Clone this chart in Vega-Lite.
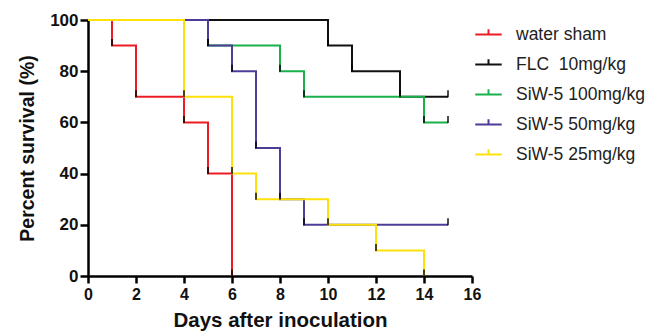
{
  "$schema": "https://vega.github.io/schema/vega-lite/v6.json",
  "width": 384,
  "height": 256,
  "autosize": "none",
  "padding": {"left": 88, "top": 20, "right": 178, "bottom": 59},
  "background": "white",
  "config": {
    "font": "Liberation Sans",
    "view": {"stroke": null}
  },
  "datasets": {
    "curves": [
      {"group": "FLC\u00a0\u00a010mg/kg", "day": 0, "survival": 100},
      {"group": "FLC\u00a0\u00a010mg/kg", "day": 10, "survival": 90},
      {"group": "FLC\u00a0\u00a010mg/kg", "day": 11, "survival": 80},
      {"group": "FLC\u00a0\u00a010mg/kg", "day": 13, "survival": 70},
      {"group": "FLC\u00a0\u00a010mg/kg", "day": 15, "survival": 70},
      {"group": "SiW-5 100mg/kg", "day": 0, "survival": 100},
      {"group": "SiW-5 100mg/kg", "day": 5, "survival": 90},
      {"group": "SiW-5 100mg/kg", "day": 8, "survival": 80},
      {"group": "SiW-5 100mg/kg", "day": 9, "survival": 70},
      {"group": "SiW-5 100mg/kg", "day": 14, "survival": 60},
      {"group": "SiW-5 100mg/kg", "day": 15, "survival": 60},
      {"group": "SiW-5 50mg/kg", "day": 0, "survival": 100},
      {"group": "SiW-5 50mg/kg", "day": 5, "survival": 90},
      {"group": "SiW-5 50mg/kg", "day": 6, "survival": 80},
      {"group": "SiW-5 50mg/kg", "day": 7, "survival": 50},
      {"group": "SiW-5 50mg/kg", "day": 8, "survival": 30},
      {"group": "SiW-5 50mg/kg", "day": 9, "survival": 20},
      {"group": "SiW-5 50mg/kg", "day": 15, "survival": 20},
      {"group": "water sham", "day": 0, "survival": 100},
      {"group": "water sham", "day": 1, "survival": 90},
      {"group": "water sham", "day": 2, "survival": 70},
      {"group": "water sham", "day": 4, "survival": 60},
      {"group": "water sham", "day": 5, "survival": 40},
      {"group": "water sham", "day": 6, "survival": 0},
      {"group": "SiW-5 25mg/kg", "day": 0, "survival": 100},
      {"group": "SiW-5 25mg/kg", "day": 4, "survival": 70},
      {"group": "SiW-5 25mg/kg", "day": 6, "survival": 40},
      {"group": "SiW-5 25mg/kg", "day": 7, "survival": 30},
      {"group": "SiW-5 25mg/kg", "day": 10, "survival": 20},
      {"group": "SiW-5 25mg/kg", "day": 12, "survival": 10},
      {"group": "SiW-5 25mg/kg", "day": 14, "survival": 0}
    ]
  },
  "data": {"name": "curves"},
  "layer": [
    {
      "mark": {"type": "line", "interpolate": "step-after", "strokeWidth": 2},
      "encoding": {
        "x": {
          "field": "day", "type": "quantitative",
          "scale": {"domain": [0, 16], "nice": false, "zero": true},
          "axis": {
            "values": [0, 2, 4, 6, 8, 10, 12, 14, 16],
            "title": "Days after inoculation",
            "grid": false,
            "domainColor": "black", "domainWidth": 2.5,
            "tickColor": "black", "tickWidth": 2.5, "tickSize": 7,
            "labelFont": "Liberation Sans", "labelFontWeight": "bold", "labelFontSize": 16, "labelColor": "#111",
            "labelPadding": 3, "labelFlush": false,
            "titleFont": "Liberation Sans", "titleFontWeight": "bold", "titleFontSize": 20.5, "titleColor": "#111",
            "titlePadding": 8
          }
        },
        "y": {
          "field": "survival", "type": "quantitative",
          "scale": {"domain": [0, 100], "nice": false},
          "axis": {
            "values": [0, 20, 40, 60, 80, 100],
            "title": "Percent survival (%)",
            "grid": false,
            "domainColor": "black", "domainWidth": 2.5,
            "tickColor": "black", "tickWidth": 2.5, "tickSize": 8,
            "labelFont": "Liberation Sans", "labelFontWeight": "bold", "labelFontSize": 17, "labelColor": "#111",
            "labelPadding": 2,
            "titleFont": "Liberation Sans", "titleFontWeight": "bold", "titleFontSize": 19.5, "titleColor": "#111",
            "titlePadding": 12
          }
        },
        "color": {
          "field": "group", "type": "nominal",
          "scale": {
            "domain": ["water sham", "FLC\u00a0\u00a010mg/kg", "SiW-5 100mg/kg", "SiW-5 50mg/kg", "SiW-5 25mg/kg"],
            "range": ["#ed1c24", "#111111", "#19b14b", "#4e3c96", "#ffe10a"]
          },
          "legend": {
            "title": null,
            "orient": "none",
            "legendX": 386,
            "legendY": 0,
            "symbolType": "M-1,0H1M0,0V-0.4",
            "symbolSize": 700,
            "symbolStrokeWidth": 2,
            "labelFont": "Liberation Sans",
            "labelFontSize": 17.5,
            "labelColor": "#222",
            "labelOffset": 13,
            "rowPadding": 7,
            "labelLimit": 200
          }
        },
        "order": {"field": "day", "type": "quantitative"}
      }
    },
    {
      "transform": [{"filter": "datum.day > 0"}],
      "mark": {"type": "tick", "orient": "vertical", "color": "black", "thickness": 2, "size": 7, "yOffset": -3},
      "encoding": {
        "x": {"field": "day", "type": "quantitative"},
        "y": {"field": "survival", "type": "quantitative"}
      }
    }
  ]
}
